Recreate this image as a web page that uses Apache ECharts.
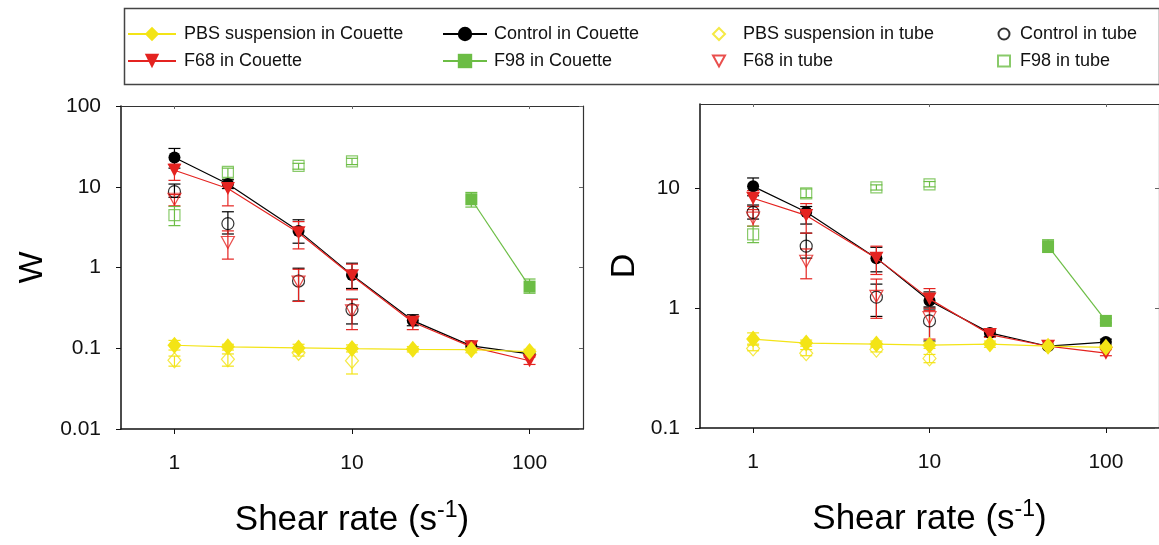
<!DOCTYPE html>
<html>
<head>
<meta charset="utf-8">
<script src="https://cdn.jsdelivr.net/npm/echarts@6/dist/echarts.min.js"></script>
<style>
  html, body { margin: 0; padding: 0; background: #fff; }
  #chart { width: 1159px; height: 545px; }
</style>
</head>
<body>
<div id="chart"></div>
<script>
// shear rates (s-1)
const couetteRates = [1, 2, 5, 10, 22, 47, 100]
const tubeRates = [1, 2, 5, 10]
const f98CouetteRates = [47, 100]
const xTicks = [1, 10, 100]
const wTicks = [0.01, 0.1, 1, 10, 100]
const dTicks = [0.1, 1, 10]

// W panel
const wPbsCouette = [0.109, 0.104, 0.101, 0.099, 0.097, 0.096, 0.091]
const wControlCouette = [23, 10.8, 2.84, 0.81, 0.22, 0.107, 0.085]
const wF68Couette = [16, 9.5, 2.7, 0.79, 0.21, 0.104, 0.07]
const wF98Couette = [7.0, 0.58]
const wPbsTube = [0.071, 0.073, 0.088, 0.07]
const wControlTube = [8.7, 3.5, 0.68, 0.3]
const wF68Tube = [7.0, 2.04, 0.66, 0.29]
const wF98Tube = [4.45, 15.3, 18.1, 20.6]

// W error bars [low, high]
const wPbsCouetteErr = [[0.095, 0.125], [0.095, 0.112], [0.09, 0.112], [0.09, 0.11], [0.09, 0.105], [0.088, 0.103], [0.085, 0.097]]
const wControlCouetteErr = [[17, 29.8], [9.5, 12.2], [2.0, 3.9], [0.55, 1.13], [0.19, 0.26], null, null]
const wF68CouetteErr = [[12, 19], [5.8, 11], [1.7, 3.7], [0.53, 1.1], [0.17, 0.25], null, [0.063, 0.078]]
const wF98CouetteErr = [[5.6, 8.5], [0.48, 0.72]]
const wPbsTubeErr = [[0.06, 0.08], [0.06, 0.085], [0.08, 0.1], [0.048, 0.097]]
const wControlTubeErr = [[7.4, 10.8], [2.6, 4.9], [0.385, 0.98], [0.2, 0.405]]
const wF68TubeErr = [[5.8, 8.0], [1.27, 2.84], [0.38, 0.95], [0.17, 0.4]]
const wF98TubeErr = [[3.3, 5.7], [12.5, 17], [16.5, 19.5], [18.8, 22.5]]

// D panel
const dPbsCouette = [0.55, 0.51, 0.5, 0.49, 0.5, 0.48, 0.47]
const dControlCouette = [10.3, 6.3, 2.6, 1.15, 0.62, 0.48, 0.52]
const dF68Couette = [8.2, 5.9, 2.6, 1.19, 0.6, 0.48, 0.42]
const dF98Couette = [3.27, 0.78]
const dPbsTube = [0.46, 0.42, 0.45, 0.38]
const dControlTube = [6.25, 3.27, 1.23, 0.78]
const dF68Tube = [5.6, 2.45, 1.25, 0.83]
const dF98Tube = [4.1, 9.0, 10.1, 10.7]

// D error bars [low, high]
const dPbsCouetteErr = [[0.5, 0.62], [0.48, 0.54], [0.47, 0.53], [0.46, 0.52], [0.47, 0.53], [0.46, 0.5], [0.45, 0.49]]
const dControlCouetteErr = [[8.6, 12.1], [5.0, 7.0], [2.0, 3.2], [1.02, 1.36], [0.58, 0.65], null, [0.49, 0.55]]
const dF68CouetteErr = [[7.0, 9.5], [4.2, 7.4], [1.9, 3.27], [0.95, 1.45], [0.57, 0.63], null, [0.4, 0.45]]
const dF98CouetteErr = [[2.9, 3.7], [0.75, 0.82]]
const dPbsTubeErr = [[0.44, 0.49], [0.4, 0.45], [0.43, 0.48], [0.35, 0.41]]
const dControlTubeErr = [[5.5, 7.2], [2.6, 4.2], [0.85, 1.58], [0.53, 0.98]]
const dF68TubeErr = [[4.8, 6.6], [1.75, 3.1], [0.82, 1.74], [0.55, 1.0]]
const dF98TubeErr = [[3.5, 4.8], [8.3, 9.8], [9.6, 10.6], [10.2, 11.3]]

const YELLOW = '#f3e416'
const RED = '#e42320'
const GREEN = '#6cbd45'
const BLACK = '#000000'
const FONT = 'Liberation Sans'
// downward triangle
const DOWN_TRI = 'path://M0,0L10,0L5,9Z'

const names = {
  pbsC: 'PBS suspension in Couette',
  ctrlC: 'Control in Couette',
  f68C: 'F68 in Couette',
  f98C: 'F98 in Couette',
  pbsT: 'PBS suspension in tube',
  ctrlT: 'Control in tube',
  f68T: 'F68 in tube',
  f98T: 'F98 in tube'
}

const pairs = (xs, ys) => xs.map((x, i) => [x, ys[i]])

const lineSeries = (name, idx, xs, ys, color, symbol, size, z) => ({
  name,
  type: 'line',
  xAxisIndex: idx,
  yAxisIndex: idx,
  data: pairs(xs, ys),
  symbol,
  symbolSize: size,
  z,
  itemStyle: { color },
  lineStyle: { color, width: 1.2 },
  emphasis: { disabled: true }
})

const openSeries = (name, idx, xs, ys, color, symbol, size) => ({
  name,
  type: 'scatter',
  xAxisIndex: idx,
  yAxisIndex: idx,
  data: pairs(xs, ys),
  symbol,
  symbolSize: size,
  z: 3,
  itemStyle: { color: 'rgba(255,255,255,0)', borderColor: color, borderWidth: 1.2 },
  emphasis: { disabled: true }
})

const errSeries = (name, idx, xs, errs, color, z) => ({
  name,
  type: 'custom',
  xAxisIndex: idx,
  yAxisIndex: idx,
  z,
  silent: true,
  data: xs.map((x, i) => errs[i] ? [x, errs[i][0], errs[i][1]] : null).filter(d => d),
  renderItem: (params, api) => {
    const lo = api.coord([api.value(0), api.value(1)])
    const hi = api.coord([api.value(0), api.value(2)])
    const cap = 6
    const style = { stroke: color, lineWidth: 1.2 }
    return {
      type: 'group',
      children: [
        { type: 'line', shape: { x1: lo[0], y1: lo[1], x2: hi[0], y2: hi[1] }, style },
        { type: 'line', shape: { x1: lo[0] - cap, y1: lo[1], x2: lo[0] + cap, y2: lo[1] }, style },
        { type: 'line', shape: { x1: hi[0] - cap, y1: hi[1], x2: hi[0] + cap, y2: hi[1] }, style }
      ]
    }
  }
})

const panelSeries = (idx, v) => [
  lineSeries(names.ctrlC, idx, couetteRates, v.ctrlC, BLACK, 'circle', 12, 4),
  lineSeries(names.f68C, idx, couetteRates, v.f68C, RED, DOWN_TRI, [14, 13], 5),
  lineSeries(names.f98C, idx, f98CouetteRates, v.f98C, GREEN, 'rect', 12, 4),
  lineSeries(names.pbsC, idx, couetteRates, v.pbsC, YELLOW, 'diamond', [14, 17], 6),
  openSeries(names.pbsT, idx, tubeRates, v.pbsT, YELLOW, 'diamond', [13, 15]),
  openSeries(names.ctrlT, idx, tubeRates, v.ctrlT, BLACK, 'circle', 12),
  openSeries(names.f68T, idx, tubeRates, v.f68T, RED, DOWN_TRI, [13, 12]),
  openSeries(names.f98T, idx, tubeRates, v.f98T, GREEN, 'rect', 11),
  errSeries(names.ctrlC, idx, couetteRates, v.ctrlCErr, BLACK, 3),
  errSeries(names.f68C, idx, couetteRates, v.f68CErr, RED, 3),
  errSeries(names.f98C, idx, f98CouetteRates, v.f98CErr, GREEN, 3),
  errSeries(names.pbsC, idx, couetteRates, v.pbsCErr, YELLOW, 3),
  errSeries(names.pbsT, idx, tubeRates, v.pbsTErr, YELLOW, 2),
  errSeries(names.ctrlT, idx, tubeRates, v.ctrlTErr, BLACK, 2),
  errSeries(names.f68T, idx, tubeRates, v.f68TErr, RED, 2),
  errSeries(names.f98T, idx, tubeRates, v.f98TErr, GREEN, 2)
]

const xName = '{a|Shear rate (s}{sup|-1}{a|)}'
const xNameStyle = {
  rich: {
    a: { fontSize: 35, fontFamily: FONT, color: '#000' },
    sup: { fontSize: 23, fontFamily: FONT, color: '#000', padding: [0, 0, 20, 0] }
  }
}

const bottomAxis = (grid) => ({
  type: 'log',
  gridIndex: grid,
  min: 0.5,
  max: 200,
  position: 'bottom',
  name: xName,
  nameLocation: 'middle',
  nameGap: 70,
  nameTextStyle: xNameStyle,
  axisLine: { lineStyle: { color: '#111', width: 1.5 } },
  axisTick: { customValues: xTicks, length: 5, lineStyle: { color: '#111' } },
  axisLabel: { customValues: xTicks, margin: 24, fontSize: 21, fontFamily: FONT, color: '#111' },
  splitLine: { show: false },
  minorTick: { show: false }
})

const topAxis = (grid) => ({
  type: 'log',
  gridIndex: grid,
  min: 0.5,
  max: 200,
  position: 'top',
  axisLine: { lineStyle: { color: '#333', width: 1.2 } },
  axisTick: { customValues: xTicks, inside: true, length: 3, lineStyle: { color: '#666' } },
  axisLabel: { show: false },
  splitLine: { show: false }
})

const leftAxis = (grid, min, max, ticks, name, gap) => ({
  type: 'log',
  gridIndex: grid,
  min,
  max,
  position: 'left',
  name,
  nameLocation: 'middle',
  nameGap: gap,
  nameRotate: 90,
  nameTextStyle: { fontSize: 34, fontFamily: FONT, color: '#000' },
  axisLine: { lineStyle: { color: '#111', width: 1.5 } },
  axisTick: { customValues: ticks, length: 5, lineStyle: { color: '#111' } },
  axisLabel: { customValues: ticks, margin: 20, fontSize: 21, fontFamily: FONT, color: '#111' },
  splitLine: { show: false }
})

const rightAxis = (grid, min, max, ticks) => ({
  type: 'log',
  gridIndex: grid,
  min,
  max,
  position: 'right',
  axisLine: { lineStyle: { color: '#333', width: 1.2 } },
  axisTick: { customValues: ticks, inside: true, length: 4, lineStyle: { color: '#666' } },
  axisLabel: { show: false },
  splitLine: { show: false }
})

const legendCol = (left, items, itemWidth, itemHeight, padLeft) => ({
  orient: 'vertical',
  left,
  top: 19,
  padding: 5,
  itemGap: 7,
  itemWidth,
  itemHeight,
  selectedMode: false,
  data: items,
  textStyle: { fontSize: 18, fontFamily: FONT, color: '#111', padding: [0, 0, 0, padLeft], lineHeight: 20 }
})

const option = {
  backgroundColor: '#fff',
  animation: false,
  graphic: [{
    type: 'rect',
    left: 122,
    top: 6,
    shape: { width: 1035, height: 76 },
    style: { fill: 'none', stroke: '#444', lineWidth: 1.5 }
  }],
  legend: [
    legendCol(122, [names.pbsC, names.f68C], 48, 18, 3),
    legendCol(437, [names.ctrlC, names.f98C], 44, 18, 2),
    legendCol(707, [names.pbsT, names.f68T], 12, 12, 13),
    legendCol(992, [names.ctrlT, names.f98T], 12, 11, 5)
  ],
  grid: [
    { left: 121, top: 106, width: 462, height: 323 },
    { left: 700, top: 104, width: 464, height: 324 }
  ],
  xAxis: [bottomAxis(0), topAxis(0), bottomAxis(1), topAxis(1)],
  yAxis: [
    leftAxis(0, 0.01, 100, wTicks, 'W', 71),
    rightAxis(0, 0.01, 100, wTicks),
    leftAxis(1, 0.1, 50, dTicks, 'D', 58),
    rightAxis(1, 0.1, 50, dTicks)
  ],
  series: [
    ...panelSeries(0, {
      pbsC: wPbsCouette, ctrlC: wControlCouette, f68C: wF68Couette, f98C: wF98Couette,
      pbsT: wPbsTube, ctrlT: wControlTube, f68T: wF68Tube, f98T: wF98Tube,
      pbsCErr: wPbsCouetteErr, ctrlCErr: wControlCouetteErr, f68CErr: wF68CouetteErr, f98CErr: wF98CouetteErr,
      pbsTErr: wPbsTubeErr, ctrlTErr: wControlTubeErr, f68TErr: wF68TubeErr, f98TErr: wF98TubeErr
    }),
    ...panelSeries(2, {
      pbsC: dPbsCouette, ctrlC: dControlCouette, f68C: dF68Couette, f98C: dF98Couette,
      pbsT: dPbsTube, ctrlT: dControlTube, f68T: dF68Tube, f98T: dF98Tube,
      pbsCErr: dPbsCouetteErr, ctrlCErr: dControlCouetteErr, f68CErr: dF68CouetteErr, f98CErr: dF98CouetteErr,
      pbsTErr: dPbsTubeErr, ctrlTErr: dControlTubeErr, f68TErr: dF68TubeErr, f98TErr: dF98TubeErr
    })
  ]
}

const chart = echarts.init(document.getElementById('chart'))
chart.setOption(option)
</script>
</body>
</html>
